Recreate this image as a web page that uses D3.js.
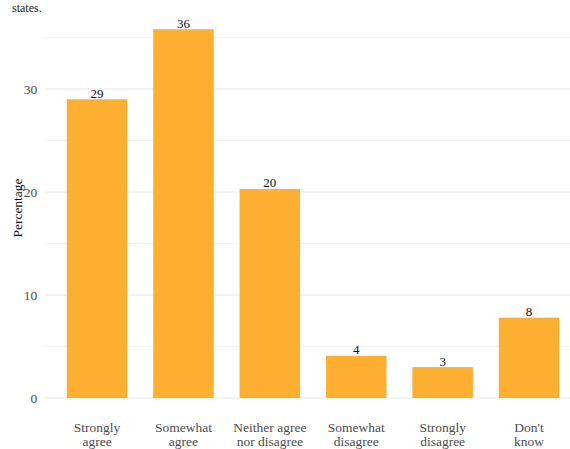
<!DOCTYPE html>
<html><head><meta charset="utf-8">
<script src="https://cdn.jsdelivr.net/npm/d3@7"></script>
<style>body{margin:0;background:#fff}svg{display:block}</style>
</head><body>
<script>
const categories = ["Strongly agree","Somewhat agree","Neither agree nor disagree","Somewhat disagree","Strongly disagree","Don't know"];
const labelLines = [["Strongly","agree"],["Somewhat","agree"],["Neither agree","nor disagree"],["Somewhat","disagree"],["Strongly","disagree"],["Don't","know"]];
const values = [29.0, 35.8, 20.3, 4.1, 3.0, 7.8];
const valueLabels = ["29","36","20","4","3","8"];
const yTicks = [0,10,20,30];
const yMinor = [5,15,25,35];

const W = 570, H = 449;
const font = "'Liberation Serif','Times New Roman',serif";
const svg = d3.select("body").append("svg").attr("width",W).attr("height",H);

const panelL = 45.2, step = 86.4;
const x = d3.scaleBand().domain(categories)
  .range([panelL + 0.1*step, panelL + 6.1*step]).paddingInner(0.3).paddingOuter(0.15);
const y = d3.scaleLinear().domain([0,10]).range([398,295]);

svg.append("text").attr("x",12).attr("y",12).attr("font-family",font).attr("font-size",12).attr("fill","#222").text("states.");

const g = svg.append("g");
g.selectAll("line.minor").data(yMinor).join("line")
  .attr("x1",panelL).attr("x2",W).attr("y1",d=>y(d)).attr("y2",d=>y(d))
  .attr("stroke","#f3f3f3").attr("stroke-width",1);
g.selectAll("line.major").data(yTicks).join("line")
  .attr("x1",panelL).attr("x2",W).attr("y1",d=>y(d)).attr("y2",d=>y(d))
  .attr("stroke","#e8e8e8").attr("stroke-width",1);

g.selectAll("rect").data(values).join("rect")
  .attr("x",(d,i)=>x(categories[i])).attr("width",x.bandwidth())
  .attr("y",d=>y(d)).attr("height",d=>y(0)-y(d)).attr("fill","#FCAF30");

g.selectAll("text.val").data(values).join("text")
  .attr("x",(d,i)=>x(categories[i])+x.bandwidth()/2).attr("y",d=>y(d)-1.5)
  .attr("text-anchor","middle").attr("font-family",font).attr("font-size",13).attr("fill","#111")
  .text((d,i)=>valueLabels[i]);

const yAxis = d3.axisLeft(y).tickValues(yTicks).tickSize(0).tickPadding(6);
const ya = svg.append("g").attr("transform",`translate(${panelL-2},0)`).call(yAxis);
ya.attr("font-family",font);
ya.select(".domain").remove();
ya.selectAll("text").attr("font-family",font).attr("font-size",13.5).attr("fill","#4d4d4d");

const xa = svg.append("g");
categories.forEach((c,i)=>{
  const t = xa.append("text").attr("x",x(c)+x.bandwidth()/2).attr("y",432)
    .attr("text-anchor","middle").attr("font-family",font).attr("font-size",13.5).attr("fill","#4d4d4d");
  labelLines[i].forEach((l,j)=>t.append("tspan").attr("x",x(c)+x.bandwidth()/2).attr("dy",j?14:0).text(l));
});

svg.append("text").attr("transform","translate(22,208) rotate(-90)").attr("text-anchor","middle")
  .attr("font-family",font).attr("font-size",13.5).attr("fill","#111").text("Percentage");
</script>
</body></html>
